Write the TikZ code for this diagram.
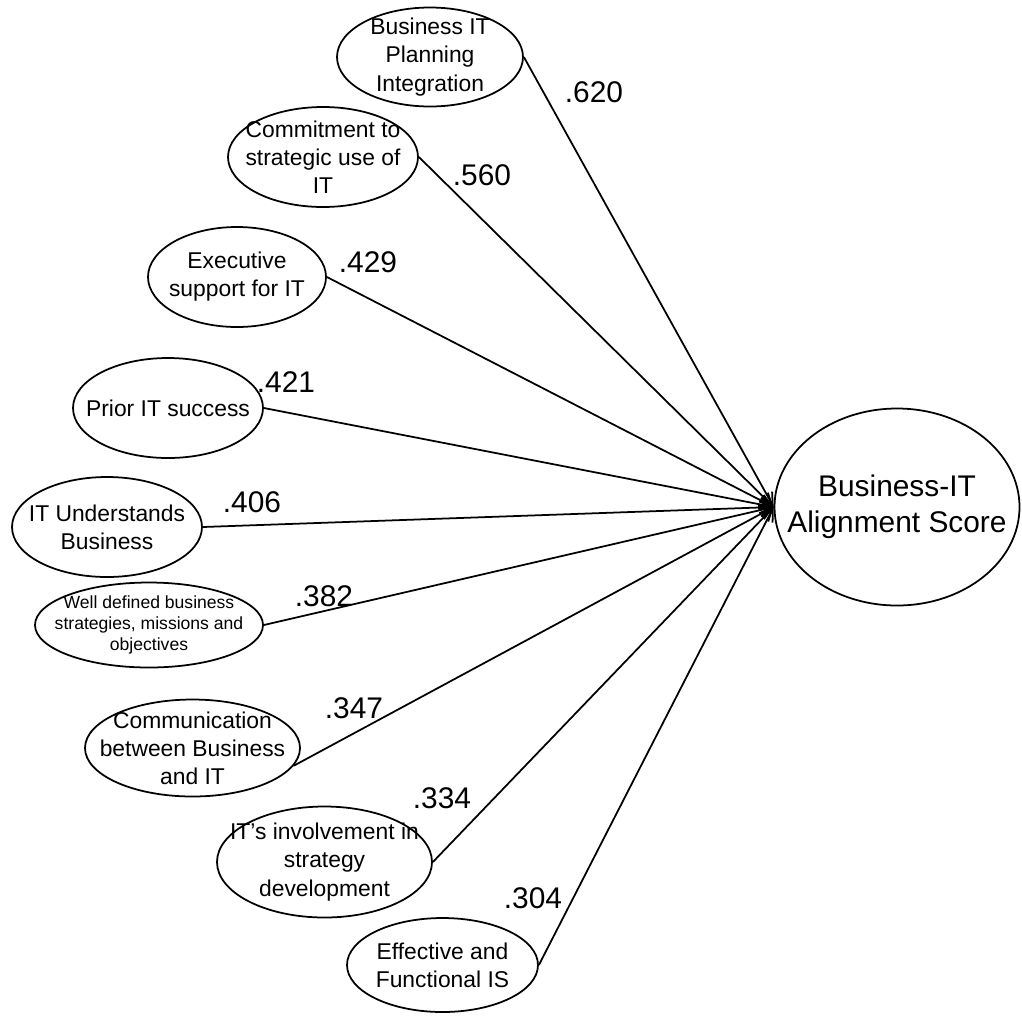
\documentclass[tikz,border=0pt]{standalone}
\usepackage{fontspec}
\setmainfont{Liberation Sans}
\usetikzlibrary{arrows.meta, shapes.geometric}

\tikzset{
    factor/.style={ellipse, draw, line width=1pt, inner sep=-3cm, align=center,
        font=\fontsize{13}{16}\selectfont},
    weight/.style={font=\fontsize{17}{19}\selectfont},
    link/.style={line width=1pt, -{Straight Barb[length=7pt, width=7pt]}}
}

\begin{document}
\begin{tikzpicture}
    \useasboundingbox (0,0) rectangle (20.44,-20.34);

    % dependent construct
    \node[factor, minimum width=4.9cm, minimum height=3.94cm, font=\fontsize{17}{20.5}\selectfont]
        (score) at (17.94,-10.14) {Business-IT\\Alignment Score};

    % success factors
    \node[factor, minimum width=3.72cm, minimum height=1.98cm] (plan) at (8.6,-1.14) {Business IT\\Planning\\Integration};
    \node[factor, minimum width=3.8cm, minimum height=2.0cm] (commit) at (6.46,-3.14) {Commitment to\\strategic use of\\IT};
    \node[factor, minimum width=3.56cm, minimum height=2.0cm] (exec) at (4.74,-5.54) {Executive\\support for IT};
    \node[factor, minimum width=3.8cm, minimum height=2.0cm] (prior) at (3.36,-8.16) {Prior IT success};
    \node[factor, minimum width=3.8cm, minimum height=2.0cm] (under) at (2.14,-10.54) {IT Understands\\Business};
    \node[factor, minimum width=4.56cm, minimum height=1.7cm, font=\fontsize{10}{11.8}\selectfont] (strat) at (2.98,-12.5) {Well defined business\\strategies, missions and\\objectives};
    \node[factor, minimum width=4.3cm, minimum height=1.94cm] (comm) at (3.85,-14.96) {Communication\\between Business\\and IT};
    \node[factor, minimum width=4.3cm, minimum height=2.22cm] (involve) at (6.49,-17.24) {IT's involvement in\\strategy\\development};
    \node[factor, minimum width=3.82cm, minimum height=1.88cm] (effect) at (8.85,-19.3) {Effective and\\Functional IS};

    % paths
    \draw[link] (plan.east) -- (score.west);
    \draw[link] (commit.east) -- (score.west);
    \draw[link] (exec.east) -- (score.west);
    \draw[link] (prior.east) -- (score.west);
    \draw[link] (under.east) -- (score.west);
    \draw[link] (strat.east) -- (score.west);
    \draw[link] (comm.-10) -- (score.west);
    \draw[link] (involve.east) -- (score.west);
    \draw[link] (effect.east) -- (score.west);

    % loadings
    \node[weight] (w1) at (11.88,-1.84) {.620};
    \node[weight] (w2) at (9.64,-3.5) {.560};
    \node[weight] (w3) at (7.36,-5.24) {.429};
    \node[weight] (w4) at (5.72,-7.64) {.421};
    \node[weight] (w5) at (5.04,-10.04) {.406};
    \node[weight] (w6) at (6.48,-11.92) {.382};
    \node[weight] (w7) at (7.08,-14.16) {.347};
    \node[weight] (w8) at (8.84,-15.96) {.334};
    \node[weight] (w9) at (10.66,-17.96) {.304};
\end{tikzpicture}
\end{document}
